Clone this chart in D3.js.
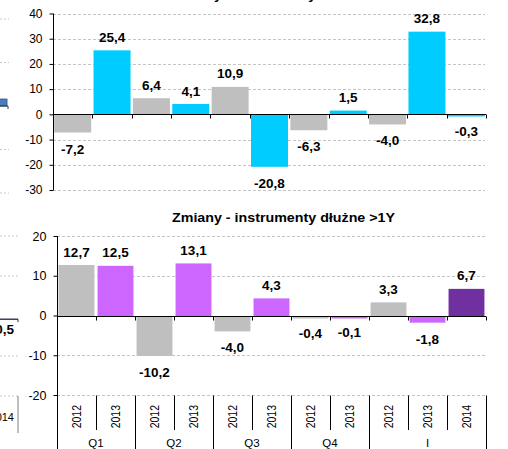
<!DOCTYPE html>
<html>
<head>
<meta charset="utf-8">
<script src="https://cdn.jsdelivr.net/npm/d3@7"></script>
<style>
  html, body { margin: 0; padding: 0; background: #fff; }
  svg { display: block; font-family: "Liberation Sans", Arial, sans-serif; }
</style>
</head>
<body>
<svg id="chart" width="508" height="449"></svg>
<script>
// ---------- data ----------
const years = ["2012","2013","2012","2013","2012","2013","2012","2013","2012","2013","2014"];
const quarters = ["Q1","Q1","Q2","Q2","Q3","Q3","Q4","Q4","I","I","I"];
const groupLabels = ["Q1","Q2","Q3","Q4","I"];
const topValues = [-7.2, 25.4, 6.4, 4.1, 10.9, -20.8, -6.3, 1.5, -4.0, 32.8, -0.3];
const bottomValues = [12.7, 12.5, -10.2, 13.1, -4.0, 4.3, -0.4, -0.1, 3.3, -1.8, 6.7];
const topTicks = [40, 30, 20, 10, 0, -10, -20, -30];
const bottomTicks = [20, 10, 0, -10, -20];
const topTitle = "Zmiany - instrumenty dłużne <1Y";
const bottomTitle = "Zmiany - instrumenty dłużne >1Y";
// fragments of the neighbouring charts on the left edge
const neighborTopTicks = [20, 10, -10, -20];
const neighborTopValue = 1.6;
const neighborBottomTicks = [20, 10, -10, -20];
const neighborBottomLabel = "-0,5";
const neighborBottomYear = "2014";

const topColors = {"2012": "#BFBFBF", "2013": "#00CCFF", "2014": "#00CCFF"};
const bottomColors = {"2012": "#BFBFBF", "2013": "#CC66FF", "2014": "#7030A0"};

const fmt = v => d3.format(".1f")(v).replace(".", ",").replace("\u2212", "-");
const ids = years.map((y, i) => quarters[i] + "-" + y + "-" + i);

const svg = d3.select("#chart");
const FONT = "\"Liberation Sans\", Arial, sans-serif";

// ---------- neighbour fragments ----------
(function neighbors() {
  const g = svg.append("g");
  const yT = d3.scaleLinear().domain([-20, 20]).range([193, 19]);
  g.selectAll(".ntg").data(neighborTopTicks).join("line")
    .attr("x1", 0).attr("x2", 9).attr("y1", d => yT(d)).attr("y2", d => yT(d))
    .attr("stroke", "#C8C8C8").attr("stroke-dasharray", "2,2");
  g.append("rect").attr("x", -10).attr("width", 17)
    .attr("y", yT(neighborTopValue)).attr("height", yT(0) - yT(neighborTopValue))
    .attr("fill", "#4A7EC0").attr("stroke", "#2B4C7E").attr("stroke-width", 0.8);
  g.append("line").attr("x1", 0).attr("x2", 8).attr("y1", yT(0)).attr("y2", yT(0)).attr("stroke", "#333");
  g.append("line").attr("x1", 8).attr("x2", 8).attr("y1", yT(0)).attr("y2", yT(0) + 3).attr("stroke", "#333");

  const yB = d3.scaleLinear().domain([-20, 20]).range([396, 236]);
  g.selectAll(".nbg").data(neighborBottomTicks).join("line")
    .attr("x1", 0).attr("x2", 18).attr("y1", d => yB(d)).attr("y2", d => yB(d))
    .attr("stroke", "#C8C8C8").attr("stroke-dasharray", "2,2");
  g.append("line").attr("x1", 0).attr("x2", 18).attr("y1", yB(-0.8)).attr("y2", yB(-0.8)).attr("stroke", "#2A1A44").attr("stroke-width", 1.3);
  g.append("line").attr("x1", 18).attr("x2", 18).attr("y1", yB(-0.8)).attr("y2", yB(-0.8) + 3).attr("stroke", "#333");
  g.append("text").attr("x", 14).attr("y", yB(-0.8) + 15).attr("text-anchor", "end")
    .attr("font-size", 13.5).attr("font-weight", "bold").attr("fill", "#000").text(neighborBottomLabel);
  g.append("text").attr("x", 14).attr("y", 421).attr("text-anchor", "end")
    .attr("font-size", 11).attr("fill", "#000").text(neighborBottomYear);
  g.append("line").attr("x1", 18).attr("x2", 18).attr("y1", 396).attr("y2", 433).attr("stroke", "#808080");
})();

// ---------- generic panel ----------
function panel(opts) {
  const {x0, x1, yScale, ticks, values, colors, tickFont, padInner, padOuter, axisBottom} = opts;
  const g = svg.append("g");
  const x = d3.scaleBand().domain(ids).range([x0, x1]).paddingInner(padInner).paddingOuter(padOuter);
  const step = x.step();
  const bx = i => x0 + i * step; // band boundaries
  const y0 = Math.round(yScale(0)) + 0.5;

  // grid lines (dashed)
  g.selectAll(".grid").data(ticks.filter(t => t !== 0)).join("line")
    .attr("x1", x0).attr("x2", x1 - 1)
    .attr("y1", d => Math.round(yScale(d)) + 0.5).attr("y2", d => Math.round(yScale(d)) + 0.5)
    .attr("stroke", "#C4C4C4").attr("stroke-dasharray", "3,2");

  // bars (tiny bars keep a visible minimum thickness below/above the zero line)
  g.selectAll(".bar").data(values).join("rect")
    .attr("x", (d, i) => x(ids[i]))
    .attr("width", x.bandwidth())
    .attr("y", d => d >= 0 ? Math.min(yScale(d), y0 - 2) : y0)
    .attr("height", d => d >= 0 ? Math.max(2, y0 - yScale(d)) : Math.max(2, yScale(d) - y0))
    .attr("fill", (d, i) => colors[years[i]]);

  // zero line + ticks at category boundaries
  g.append("line").attr("x1", x0).attr("x2", x1).attr("y1", y0).attr("y2", y0).attr("stroke", "#000");
  g.selectAll(".ztick").data(d3.range(1, ids.length + 1)).join("line")
    .attr("x1", d => Math.round(bx(d)) + 0.5).attr("x2", d => Math.round(bx(d)) + 0.5)
    .attr("y1", y0).attr("y2", y0 + 4).attr("stroke", "#000");

  // y axis
  const yAxis = d3.axisLeft(yScale).tickValues(ticks).tickSize(4).tickPadding(7).tickFormat(d => String(d));
  const ax = g.append("g").attr("transform", `translate(${Math.round(x0) + 0.5},0)`).call(yAxis);
  ax.select(".domain").remove();
  ax.selectAll(".tick line").attr("stroke", "#000");
  ax.selectAll(".tick text").attr("font-family", FONT).attr("font-size", tickFont).attr("fill", "#000");
  g.append("line").attr("x1", Math.round(x0) + 0.5).attr("x2", Math.round(x0) + 0.5)
    .attr("y1", yScale(ticks[0])).attr("y2", axisBottom).attr("stroke", "#000");

  // value labels
  g.selectAll(".lbl").data(values).join("text")
    .attr("x", (d, i) => x(ids[i]) + x.bandwidth() / 2)
    .attr("y", d => d >= 0 ? yScale(d) - 8.5 : yScale(d) + 21)
    .attr("text-anchor", "middle")
    .attr("font-family", FONT).attr("font-size", 13.5).attr("font-weight", "bold").attr("fill", "#000")
    .text(d => fmt(d));
  return {g, x, bx};
}

// ---------- top panel ----------
const yTop = d3.scaleLinear().domain([-30, 40]).range([190, 13.5]);
panel({x0: 53, x1: 486, yScale: yTop, ticks: topTicks, values: topValues, colors: topColors,
       tickFont: 12, padInner: 0.06, padOuter: 0.03, axisBottom: 190});
svg.append("text").attr("x", 283.5).attr("y", -1).attr("text-anchor", "middle")
  .attr("font-size", 13.5).attr("font-weight", "bold").attr("textLength", 223).attr("lengthAdjust", "spacingAndGlyphs")
  .text(topTitle);

// ---------- bottom panel ----------
const yBot = d3.scaleLinear().domain([-20, 20]).range([395, 236]);
const bot = panel({x0: 57, x1: 486, yScale: yBot, ticks: bottomTicks, values: bottomValues, colors: bottomColors,
       tickFont: 12.5, padInner: 0.08, padOuter: 0.04, axisBottom: 460});
svg.append("text").attr("x", 283.5).attr("y", 222).attr("text-anchor", "middle")
  .attr("font-size", 13.5).attr("font-weight", "bold").attr("textLength", 223).attr("lengthAdjust", "spacingAndGlyphs")
  .text(bottomTitle);

// category axis (two levels)
const catG = svg.append("g");
const catTop = Math.round(yBot(-20)) + 0.5;
const groupEnds = [];
let acc = 0;
groupLabels.forEach(gl => { acc += quarters.filter(q => q === gl).length; groupEnds.push(acc); });
catG.selectAll(".sep").data(d3.range(1, ids.length + 1)).join("line")
  .attr("x1", d => Math.round(bot.bx(d)) + 0.5).attr("x2", d => Math.round(bot.bx(d)) + 0.5)
  .attr("y1", catTop)
  .attr("y2", d => groupEnds.includes(d) ? 460 : 430)
  .attr("stroke", "#000");
catG.selectAll(".yr").data(years).join("text")
  .attr("transform", (d, i) => `translate(${bot.x(ids[i]) + bot.x.bandwidth() / 2},405) rotate(-90) scale(1,1.2)`)
  .attr("text-anchor", "end").attr("dy", "0.35em")
  .attr("font-size", 10.5).attr("fill", "#000")
  .text(d => d);
let start = 0;
groupLabels.forEach((gl, gi) => {
  const end = groupEnds[gi];
  catG.append("text")
    .attr("x", (bot.bx(start) + bot.bx(end)) / 2).attr("y", 447)
    .attr("text-anchor", "middle").attr("font-size", 11.5).attr("fill", "#000")
    .text(gl);
  start = end;
});
</script>
</body>
</html>
